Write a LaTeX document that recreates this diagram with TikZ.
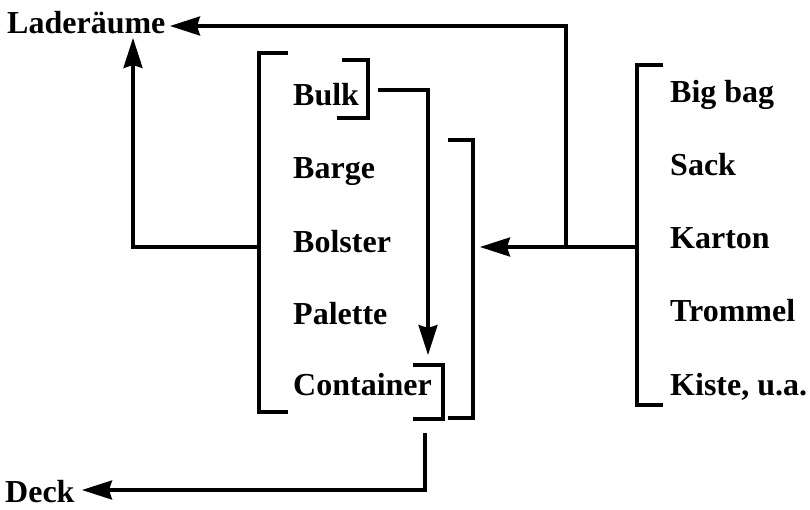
\documentclass[tikz,border=0pt]{standalone}
\usepackage{fontspec}
\setmainfont{Liberation Serif}
\usetikzlibrary{arrows.meta}
\begin{document}
\begin{tikzpicture}[x=1pt,y=-1pt,
  lbl/.style={anchor=base west,inner sep=0pt,font=\fontsize{32}{32}\selectfont\bfseries},
  ln/.style={line width=3.2pt,line join=miter},
  arr/.style={ln,-{Stealth[length=30pt,width=19pt,inset=3pt]}}]
\useasboundingbox (0,0) rectangle (810,509);
% texts
\node[lbl] (lad) at (7,33) {Laderäume};
\node[lbl] (deck) at (5,502) {Deck};
\node[lbl] (bulk) at (293,105) {Bulk};
\node[lbl] (barge) at (293,178) {Barge};
\node[lbl] (bolster) at (293,252) {Bolster};
\node[lbl] (palette) at (293,324) {Palette};
\node[lbl] (container) at (293,395) {Container};
\node[lbl] (bigbag) at (670,102) {Big bag};
\node[lbl] (sack) at (670,175) {Sack};
\node[lbl] (karton) at (670,248) {Karton};
\node[lbl] (trommel) at (670,321) {Trommel};
\node[lbl] (kiste) at (670,395) {Kiste, u.a.};
% brackets
\draw[ln] (288,53) -- (259,53) -- (259,412) -- (288,412);
\draw[ln] (342,60) -- (368,60) -- (368,118) -- (337,118);
\draw[ln] (448,140) -- (473,140) -- (473,418) -- (448,418);
\draw[ln] (413,365) -- (443,365) -- (443,419) -- (413,419);
\draw[ln] (663,65) -- (637,65) -- (637,405) -- (663,405);
% connection points
\coordinate (lb) at (259,247);
\coordinate (uptip) at (133,38);
\coordinate (ladtip) at (170,26);
\coordinate (rb) at (637,247);
\coordinate (jr) at (566,247);
\coordinate (bigtip) at (480,247);
\coordinate (bulkout) at (378,90);
\coordinate (conttip) at (428,355);
\coordinate (contout) at (425,433);
\coordinate (decktip) at (82,490);
% connectors
\draw[arr] (lb) -| (uptip);
\draw[arr] (rb) -- (bigtip);
\draw[arr] (jr) |- (ladtip);
\draw[arr] (bulkout) -| (conttip);
\draw[arr] (contout) |- (decktip);
\end{tikzpicture}
\end{document}
